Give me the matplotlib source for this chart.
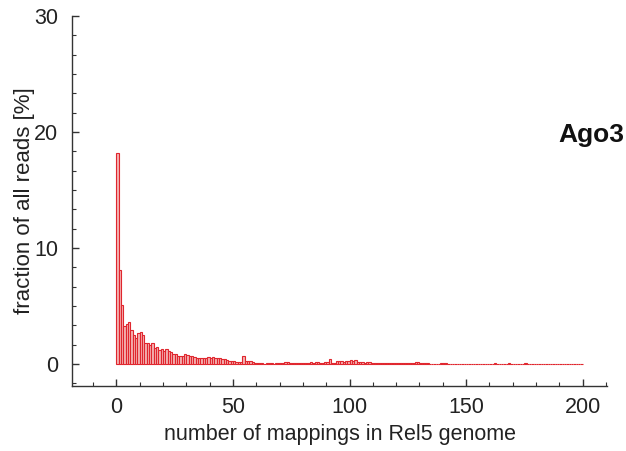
import matplotlib
matplotlib.use('Agg')
import matplotlib.pyplot as plt
import numpy as np
from matplotlib.ticker import MultipleLocator

plt.rcParams['font.family'] = ['Liberation Sans', 'DejaVu Sans']

# number of genomic mappings (1..200) and fraction of reads [%]
n_mappings = np.arange(1, 201)
fraction = [
    18.2, 8.1, 5.1, 3.25, 3.45, 3.6, 2.95, 2.5, 2.25, 2.7,
    2.8, 2.5, 1.85, 1.85, 1.6, 1.85, 1.4, 1.5, 1.25, 1.3,
    1.1, 1.3, 1.1, 1.0, 0.86, 0.86, 0.7, 0.66, 0.7, 0.86,
    0.8, 0.7, 0.65, 0.58, 0.54, 0.54, 0.5, 0.5, 0.5, 0.58,
    0.5, 0.58, 0.54, 0.5, 0.5, 0.45, 0.46, 0.38, 0.3, 0.28,
    0.22, 0.15, 0.14, 0.16, 0.66, 0.3, 0.3, 0.22, 0.14, 0.08,
    0.06, 0.05, 0.05, 0.04, 0.05, 0.06, 0.05, 0.04, 0.05, 0.06,
    0.08, 0.1, 0.2, 0.14, 0.08, 0.1, 0.12, 0.06, 0.08, 0.1,
    0.12, 0.08, 0.12, 0.15, 0.1, 0.14, 0.16, 0.12, 0.1, 0.15,
    0.2, 0.43, 0.12, 0.1, 0.25, 0.22, 0.28, 0.2, 0.3, 0.28,
    0.35, 0.3, 0.38, 0.15, 0.14, 0.16, 0.12, 0.15, 0.14, 0.08,
    0.06, 0.08, 0.05, 0.06, 0.1, 0.05, 0.06, 0.08, 0.1, 0.06,
    0.05, 0.08, 0.06, 0.1, 0.05, 0.06, 0.05, 0.1, 0.2, 0.18,
    0.1, 0.08, 0.1, 0.1, 0.04, 0.03, 0.03, 0.04, 0.03, 0.05,
    0.1, 0.08, 0.03, 0.02, 0.02, 0.02, 0.02, 0.02, 0.02, 0.02,
    0.02, 0.02, 0.02, 0.02, 0.02, 0.02, 0.02, 0.02, 0.02, 0.02,
    0.02, 0.04, 0.05, 0.04, 0.02, 0.02, 0.02, 0.04, 0.05, 0.04,
    0.02, 0.02, 0.02, 0.02, 0.02, 0.05, 0.02, 0.02, 0.02, 0.02,
    0.02, 0.02, 0.02, 0.02, 0.02, 0.02, 0.02, 0.02, 0.02, 0.02,
    0.02, 0.02, 0.02, 0.02, 0.02, 0.02, 0.02, 0.02, 0.02, 0.02,
]
x_ticks = [0, 50, 100, 150, 200]
y_ticks = [0, 10, 20, 30]

fig = plt.figure(figsize=(6.26, 4.51), dpi=100)
ax = fig.add_axes([0.115, 0.144, 0.855, 0.8205])

ax.bar(n_mappings, fraction, width=-1, align='edge',
       color='#f4b3b3', edgecolor='#e0262e', linewidth=0.8)

ax.set_xlim(-19, 210.5)
ax.set_ylim(-1.9, 30)
ax.set_xticks(x_ticks)
ax.set_yticks(y_ticks)
ax.xaxis.set_minor_locator(MultipleLocator(10))
ax.yaxis.set_minor_locator(MultipleLocator(10 / 6))

for side in ['top', 'right']:
    ax.spines[side].set_visible(False)
for side in ['left', 'bottom']:
    ax.spines[side].set_color('#333333')
    ax.spines[side].set_linewidth(1.0)

ax.tick_params(which='both', direction='in', color='#333333',
               labelsize=15.5, labelcolor='#222222')
ax.tick_params(which='major', length=5, width=1.0)
ax.tick_params(which='minor', length=3, width=0.8)
ax.tick_params(axis='x', pad=8)
ax.tick_params(axis='y', pad=10)

ax.set_xlabel('number of mappings in Rel5 genome', fontsize=15.5,
              color='#222222', labelpad=4)
ax.set_ylabel('fraction of all reads [%]', fontsize=16,
              color='#222222', labelpad=-1)

fig.text(0.998, 0.70, 'Ago3', fontsize=19, fontweight='bold',
         color='#111111', va='center', ha='right')

plt.savefig('out.png', dpi=100)
